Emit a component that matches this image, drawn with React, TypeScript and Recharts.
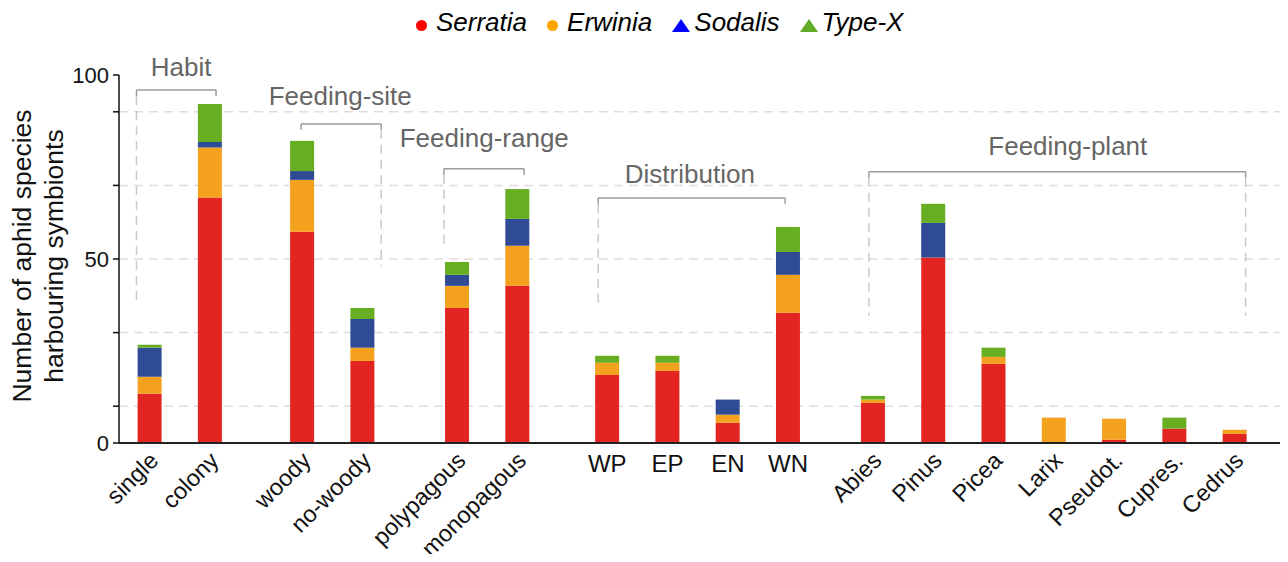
import React from 'react';
import { BarChart, Bar, XAxis, YAxis, CartesianGrid, ReferenceLine, ReferenceDot } from 'recharts';

const FONT = '"Liberation Sans", Arial, Helvetica, sans-serif';

// categories, in the order they are drawn; groupSizes splits them into the bracketed groups
const categories = [
  'single', 'colony',
  'woody', 'no-woody',
  'polypagous', 'monopagous',
  'WP', 'EP', 'EN', 'WN',
  'Abies', 'Pinus', 'Picea', 'Larix', 'Pseudot.', 'Cupres.', 'Cedrus',
];
const groupSizes = [2, 2, 2, 4, 7];
// extra space (in slots) left after each group
const groupGaps = [0.53, 0.57, 0.49, 0.41];

const serratia = [13.4, 66.7, 57.4, 22.3, 36.7, 42.7, 18.5, 19.6, 5.5, 35.4, 10.9, 50.4, 21.5, 0, 0.9, 3.9, 2.5];
const erwinia = [4.6, 13.6, 14.1, 3.6, 6.0, 10.9, 3.3, 2.2, 2.2, 10.3, 0.9, 0, 1.9, 6.9, 5.7, 0, 1.1];
const sodalis = [7.9, 1.5, 2.4, 7.8, 3.0, 7.3, 0, 0, 4.1, 6.2, 0, 9.4, 0, 0, 0, 0, 0];
const typeX = [0.8, 10.3, 8.2, 3.0, 3.5, 8.1, 1.9, 1.9, 0, 6.8, 1.0, 5.2, 2.5, 0, 0, 3.0, 0];

const yTicks = [0, 10, 30, 50, 70, 90, 100];
const yLabelled = [0, 50, 100];
const gridValues = [10, 30, 50, 70, 90];

const series = [
  { key: 'serratia', name: 'Serratia', fill: '#e32522', mark: '#ff0000', shape: 'circle' },
  { key: 'erwinia', name: 'Erwinia', fill: '#f4a11d', mark: '#ffa500', shape: 'circle' },
  { key: 'sodalis', name: 'Sodalis', fill: '#2f4b96', mark: '#0000ff', shape: 'triangle' },
  { key: 'typeX', name: 'Type-X', fill: '#67ae22', mark: '#62ab27', shape: 'triangle' },
];

// group brackets, in axis units (x = slot position, y = value)
const brackets = [
  { label: 'Habit', from: -0.22, to: 1.1, y: 95.9, drop: 38, dashL: true, dashR: false, labelAt: 0.52, labelY: 99.7 },
  { label: 'Feeding-site', from: 2.51, to: 3.84, y: 86.7, drop: 48, dashL: false, dashR: true, labelAt: 3.16, labelY: 91.9 },
  { label: 'Feeding-range', from: 4.88, to: 6.21, y: 74.5, drop: 53.6, dashL: true, dashR: false, labelAt: 5.55, labelY: 80.3 },
  { label: 'Distribution', from: 7.44, to: 10.54, y: 66.6, drop: 37.8, dashL: true, dashR: false, labelAt: 8.96, labelY: 70.7 },
  { label: 'Feeding-plant', from: 11.93, to: 18.18, y: 73.7, drop: 34.6, dashL: true, dashR: true, labelAt: 15.23, labelY: 78.3 },
];

// one slot per category, plus a gap between groups
const positions: number[] = [];
{
  let p = 0;
  groupSizes.forEach((n, g) => {
    for (let i = 0; i < n; i++) positions.push(p++);
    p += groupGaps[g] ?? 0;
  });
}

const data = categories.map((name, i) => ({
  name,
  pos: positions[i],
  serratia: serratia[i],
  erwinia: erwinia[i],
  sodalis: sodalis[i],
  typeX: typeX[i],
}));

const XTick = (props: any) => {
  const { x, y, payload } = props;
  const label = categories[positions.indexOf(payload.value)] ?? '';
  if (label.length <= 2) {
    return (
      <text x={x} y={y + 29} textAnchor="middle" fontSize={24} fontFamily={FONT} fill="#111">
        {label}
      </text>
    );
  }
  return (
    <text
      x={0}
      y={0}
      transform={`translate(${x + 10},${y + 19}) rotate(-45)`}
      textAnchor="end"
      fontSize={23.5}
      fontFamily={FONT}
      fill="#111"
    >
      {label}
    </text>
  );
};

const YTick = (props: any) => {
  const { x, y, payload } = props;
  if (!yLabelled.includes(payload.value)) return <g />;
  return (
    <text x={x} y={y} dy="0.36em" textAnchor="end" fontSize={22} fontFamily={FONT} fill="#111">
      {payload.value}
    </text>
  );
};

const YLabel = () => (
  <g fontFamily={FONT} fontSize={26.5} fill="#111" textAnchor="middle">
    <text transform="translate(23,248) rotate(-90)">Number of aphid species</text>
    <text transform="translate(55,248) rotate(-90)">harbouring symbionts</text>
  </g>
);

const GroupLabel = (text: string) => (props: any) => (
  <text x={props.cx} y={props.cy} textAnchor="middle" fontSize={26} fontFamily={FONT} fill="#666">
    {text}
  </text>
);

const Legend = () => (
  <div
    style={{
      position: 'absolute',
      left: 408,
      top: 0,
      display: 'flex',
      alignItems: 'center',
      fontFamily: FONT,
      fontStyle: 'italic',
      fontSize: 26,
      lineHeight: '29px',
      color: '#000',
    }}
  >
    {series.map((s, i) => (
      <div key={s.key} style={{ display: 'flex', alignItems: 'center', marginRight: i < series.length - 1 ? 20 : 0 }}>
        {s.shape === 'circle' ? (
          <span
            style={{
              display: 'inline-block',
              width: 11,
              height: 11,
              borderRadius: '50%',
              background: s.mark,
              marginTop: 6,
              marginRight: 9,
            }}
          />
        ) : (
          <svg width={18} height={13} style={{ marginTop: 6, marginRight: 4 }}>
            <polygon points="9,0 18,13 0,13" fill={s.mark} />
          </svg>
        )}
        <span>{s.name}</span>
      </div>
    ))}
  </div>
);

const SOLID = '#9b9b9b';
const DASHED = '#c9c9c9';
const TICK = 1.6;

export default function App() {
  return (
    <div style={{ position: 'relative', width: 1280, height: 554, marginBottom: -8 }}>
      <BarChart
        width={1280}
        height={554}
        data={data}
        margin={{ top: 67, right: 5, bottom: 19, left: 0 }}
        barSize={24}
      >
        <CartesianGrid
          vertical={false}
          horizontalValues={gridValues}
          stroke="#dedede"
          strokeWidth={1.5}
          strokeDasharray="9 6"
        />
        <XAxis
          dataKey="pos"
          type="number"
          domain={[-0.51, 18.8]}
          allowDataOverflow
          ticks={positions}
          interval={0}
          tick={<XTick />}
          tickLine={false}
          tickSize={0}
          tickMargin={0}
          height={100}
          axisLine={{ stroke: '#222', strokeWidth: 2 }}
        />
        <YAxis
          type="number"
          domain={[0, 100]}
          ticks={yTicks}
          interval={0}
          width={111}
          tick={<YTick />}
          tickSize={6}
          tickMargin={4}
          tickLine={{ stroke: '#111', strokeWidth: 1.5 }}
          axisLine={{ stroke: '#111', strokeWidth: 1.5 }}
          label={<YLabel />}
        />
        {series.map((s) => (
          <Bar key={s.key} dataKey={s.key} name={s.name} stackId="a" fill={s.fill} isAnimationActive={false} />
        ))}
        {brackets.flatMap((b) => {
          const items = [
            <ReferenceLine
              key={b.label + '-top'}
              segment={[{ x: b.from, y: b.y }, { x: b.to, y: b.y }]}
              stroke={SOLID}
              strokeWidth={1.5}
            />,
            <ReferenceLine
              key={b.label + '-l'}
              segment={[{ x: b.from, y: b.y }, { x: b.from, y: b.y - TICK }]}
              stroke={SOLID}
              strokeWidth={1.5}
            />,
            <ReferenceLine
              key={b.label + '-r'}
              segment={[{ x: b.to, y: b.y }, { x: b.to, y: b.y - TICK }]}
              stroke={SOLID}
              strokeWidth={1.5}
            />,
            <ReferenceDot
              key={b.label + '-text'}
              x={b.labelAt}
              y={b.labelY}
              r={0}
              shape={GroupLabel(b.label)}
            />,
          ];
          if (b.dashL) {
            items.push(
              <ReferenceLine
                key={b.label + '-dl'}
                segment={[{ x: b.from, y: b.y - TICK }, { x: b.from, y: b.drop }]}
                stroke={DASHED}
                strokeWidth={1.5}
                strokeDasharray="9 6"
              />,
            );
          }
          if (b.dashR) {
            items.push(
              <ReferenceLine
                key={b.label + '-dr'}
                segment={[{ x: b.to, y: b.y - TICK }, { x: b.to, y: b.drop }]}
                stroke={DASHED}
                strokeWidth={1.5}
                strokeDasharray="9 6"
              />,
            );
          }
          return items;
        })}
      </BarChart>
      <Legend />
    </div>
  );
}
